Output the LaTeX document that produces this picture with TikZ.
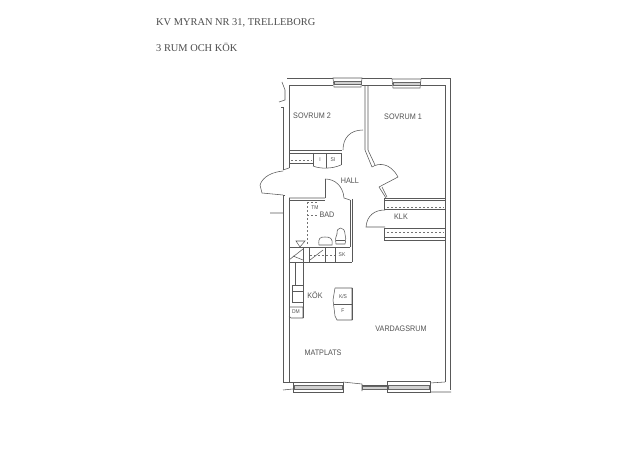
\documentclass[tikz,border=0pt]{standalone}
\usepackage{fontspec}
\setmainfont{Liberation Serif}
\newfontfamily\plan[FakeStretch=0.9]{Liberation Sans}
\tikzset{
 wall/.style={draw=black!65,line width=.55pt},
 fine/.style={draw=black!55,line width=.4pt},
 dsh/.style={draw=black!55,line width=.4pt,dash pattern=on 2pt off 2pt},
 title/.style={font=\fontsize{10.4}{12}\selectfont,text=black!70,anchor=west,inner sep=0pt},
 room/.style={font=\fontsize{8}{9}\plan\selectfont,text=black!68,inner sep=0pt},
 tiny label/.style={font=\fontsize{5.5}{6}\plan\selectfont,text=black!68,inner sep=0pt},
 win/.style={draw=black!60,line width=.5pt,fill=black!18}
}
\begin{document}
\begin{tikzpicture}[x=1pt,y=-1pt]
\useasboundingbox[fill=white] (0,0) rectangle (625,460);
\node[title] (t1) at (156,23) {KV MYRAN NR 31, TRELLEBORG};
\node[title] (t2) at (156,47) {3 RUM OCH KÖK};
% outer walls
\draw[wall] (287,78)--(333,78) (362,78)--(392,78) (421,78)--(450,78)--(450,390);
\draw[wall] (289,85)--(333,85) (362,85)--(392,85) (421,85)--(445,85)--(445,382);
\draw[wall] (445,382)--(430,383) (451,392)--(430,392);
% windows
\foreach \a/\b/\y in {333/362/78,392/421/79}{
 \draw[wall] (\a,\y)--(\a+1,\y+9)--(\b-1,\y+9)--(\b,\y)--cycle;
 \draw[win] (\a+1,\y+3) rectangle (\b-1,\y+6);
}
% left wall sovrum 2
\draw[wall] (282,82)--(285,90)--(285,100)--(279,102);
\draw[wall] (281,107)--(283,107)--(283,170) (289,85)--(289,168);
\draw[wall] (283,170)--(289,168);
% left wall lower
\draw[wall] (285,195)--(283,195)--(283,382) (289,198)--(289,382) (283,382)--(293,382);
\draw[wall] (262,193)--(283,195) (270,213)--(283,213);
% sovrum wall
\draw[wall] (365,86)--(365,150)--(372,167);
\draw[wall] (368,86)--(368,150)--(375,165);
% front door
\draw[wall] (260,185) .. controls (263,176) and (273,172) .. (283,171);
\draw[wall] (260,185)--(262,193);
% closet wall
\draw[wall] (289,150)--(342,150) (289,153)--(341,153);
\draw[wall] (289,163)--(313,163);
\draw[dsh] (291,160)--(312,160);
\draw[wall] (313,153)--(313,166) (326,153)--(326,168) (341,153)--(341,165);
\draw[wall] (313,166) .. controls (320,169) and (332,169) .. (341,165);
\node[tiny label] (l) at (320,160) {I};
\node[tiny label] (si) at (333,160) {SI};
% bedroom 2 door arc
\draw[wall] (343,150) .. controls (343,138) and (350,130) .. (363,130);
% bedroom 1 door arc
\draw[wall] (372,167) .. controls (378,163) and (390,162) .. (398,177);
\draw[wall] (398,177)--(379,187);
% klk door jamb
\draw[wall] (379,187)--(386,198);
\draw[wall] (382,187)--(387,197);
% hall to bath door
\draw[wall] (325,179) .. controls (335,179) and (343,186) .. (344,198);
\draw[wall] (325,179)--(325,198);
% bath top wall
\draw[wall] (289,198)--(325,198) (344,198)--(350,200);
\draw[wall] (289,200)--(325,200);
% bath
\draw[wall] (352,199)--(352,262) (350,200)--(350,247);
\draw[dsh] (307,202)--(307,245);
\draw[dsh] (307,202)--(318,202) (307,215)--(318,215);
\node[tiny label] (tm) at (315,208) {TM};
% toilet
\draw[wall] (319,245) .. controls (318,238) and (320,237) .. (325,237) .. controls (330,237) and (333,238) .. (332,245) -- cycle;
\draw[wall] (336,244) .. controls (335,238) and (336,237) .. (337,234) .. controls (336,226) and (345,226) .. (345,234) .. controls (346,237) and (346,240) .. (345,244) -- cycle;
\draw[wall] (336,240)--(345,240);
% cupboards row
\draw[wall] (289,247)--(350,247) (289,262)--(352,262);
\draw[wall] (303,247)--(303,262) (309,247)--(309,262) (325,247)--(325,262) (335,247)--(335,262);
\draw[wall] (289,260)--(303,249) (293,256)--(303,260) (310,260)--(323,250);
\draw[dsh] (310,255)--(335,255);
\node[tiny label] (sk) at (342,255) {SK};
\draw[wall] (296,241)--(305,241)--(300,247)--cycle;
% kitchen
\draw[wall] (295,262)--(295,285) (303,262)--(303,318);
\draw[wall] (292,285)--(303,285)--(303,302)--(292,302)--cycle;
\draw[wall] (292,291)--(303,291);
\draw[wall] (289,307)--(303,307)--(303,318)--(291,318)--(289,316);
\node[tiny label] (dm) at (296,312) {DM};
% island
\draw[wall] (335,288)--(352,288)--(352,320)--(337,320)--(335,316);
\draw[wall,line width=.9pt] (352,288)--(352,320);
\draw[wall] (334,304)--(352,304);
\draw[wall] (335,288)--(333,300)--(335,316);
\node[tiny label] (ks) at (343,297) {K/S};
\node[tiny label] (f) at (343,311) {F};
% klk
\draw[wall] (385,198)--(445,198) (385,200)--(445,200);
\draw[dsh] (387,207)--(444,207);
\draw[wall] (384,198)--(384,209) (384,209)--(445,209);
\draw[wall] (384,228)--(384,240) (384,240)--(445,240) (384,237)--(445,237);
\draw[wall] (384,228)--(445,228);
\draw[dsh] (387,232)--(444,232);
\draw[wall] (385,210) .. controls (375,210) and (367,215) .. (366,227) -- (385,227);
% balcony windows
\draw[wall] (293,382) rectangle (343,392);
\draw[win] (294,385) rectangle (342,389);
\draw[wall] (343,382)--(362,384) (362,384)--(362,391);
\draw[wall] (362,385)--(387,385);
\draw[win] (362,386) rectangle (387,389);
\draw[wall] (387,381) rectangle (430,392);
\draw[win] (388,385) rectangle (429,389);
\draw[wall] (283,390)--(293,389);
\node[room] (s2) at (312,116) {SOVRUM 2};
\node[room] (s1) at (403,117) {SOVRUM 1};
\node[room] (hall) at (350,181) {HALL};
\node[room] (bad) at (327,215) {BAD};
\node[room] (klk) at (401,217) {KLK};
\node[room] (kok) at (315,295) {KÖK};
\node[room] (vr) at (401,329) {VARDAGSRUM};
\node[room] (mp) at (323,353) {MATPLATS};
\end{tikzpicture}
\end{document}
